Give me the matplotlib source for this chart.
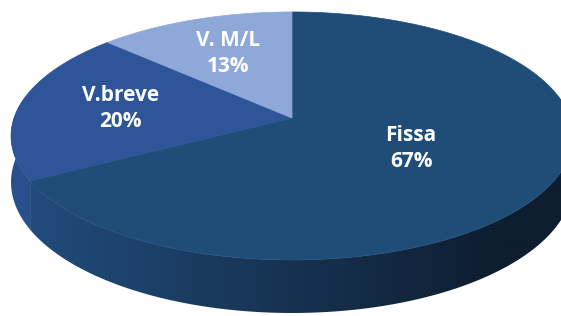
import numpy as np
import matplotlib.pyplot as plt
from matplotlib.patches import Polygon
from matplotlib.colors import to_rgb

# dati
labels = ["Fissa", "V.breve", "V. M/L"]
values = [67, 20, 13]
top_colors = ["#1F4D78", "#2E5597", "#8EA8D9"]
side_colors_left = ["#214C7C", "#2A4F8E", "#7F97C4"]
side_colors_right = ["#0E1D2F", "#1C3560", "#5A6E96"]

plt.rcParams['font.family'] = ['Open Sans', 'DejaVu Sans']

# proiezione prospettica del disco
cx, cy = 292.0, 118.0
a, b, p = 278.0, 104.3, -0.145
depth0 = 45.3
W, H = 561, 316


def proj(u, v):
    d = 1 + p * v
    return cx + a * u / d, (cy + b * v) / d


def rim(alpha):
    # alpha in gradi, senso orario dalle ore 12
    t = np.radians(alpha)
    return np.sin(t), -np.cos(t)


fig = plt.figure(figsize=(5.61, 3.16), dpi=100)
ax = fig.add_axes([0, 0, 1, 1])
ax.set_xlim(0, W)
ax.set_ylim(H, 0)
ax.axis('off')

total = float(sum(values))
bounds = np.concatenate([[0], np.cumsum(values) / total * 360])

# pareti laterali (solo la parte frontale), sfumate da sinistra a destra
xs = np.linspace(0, 1, W)
for i in range(len(values)):
    start, end = bounds[i], bounds[i + 1]
    lo, hi = max(start, 80), min(end, 280)
    if hi <= lo:
        continue
    steps = np.linspace(lo, hi, int((hi - lo) * 3) + 2)
    top = [proj(*rim(s)) for s in steps]
    bottom = []
    for s in steps[::-1]:
        u, v = rim(s)
        x, y = proj(u, v)
        bottom.append((x, y + depth0 / (1 + p * v)))
    wall = Polygon(top + bottom, closed=True, facecolor='none',
                   edgecolor='none')
    ax.add_patch(wall)
    cl = np.array(to_rgb(side_colors_left[i]))
    cr = np.array(to_rgb(side_colors_right[i]))
    f = np.clip((xs * W - 30) / 470, 0, 1)[None, :, None]
    grad = cl * (1 - f) + cr * f
    grad = np.repeat(grad, 2, axis=0)
    im = ax.imshow(grad, extent=[0, W, H, 0], aspect='auto',
                   interpolation='bilinear')
    im.set_clip_path(wall)

# facce superiori
for i in range(len(values)):
    start, end = bounds[i], bounds[i + 1]
    steps = np.linspace(start, end, int(end - start) * 2 + 2)
    pts = [proj(0, 0)]
    for s in steps:
        pts.append(proj(*rim(s)))
    ax.add_patch(Polygon(pts, closed=True, facecolor=top_colors[i],
                         edgecolor=top_colors[i], linewidth=0.5, zorder=3))

# etichette
for i in range(len(values)):
    mid = (bounds[i] + bounds[i + 1]) / 2
    u, v = rim(mid)
    r = 0.48 if values[i] > 50 else 0.63
    x, y = proj(u * r, v * r)
    pct = "{:.0f}%".format(values[i] / total * 100)
    ax.text(x, y, labels[i] + "\n" + pct, color="white", fontsize=15,
            fontweight="bold", ha="center", va="center", linespacing=1.3,
            zorder=4)

ax.set_xlim(0, W)
ax.set_ylim(H, 0)
plt.savefig("out.png", dpi=100)
plt.close()
